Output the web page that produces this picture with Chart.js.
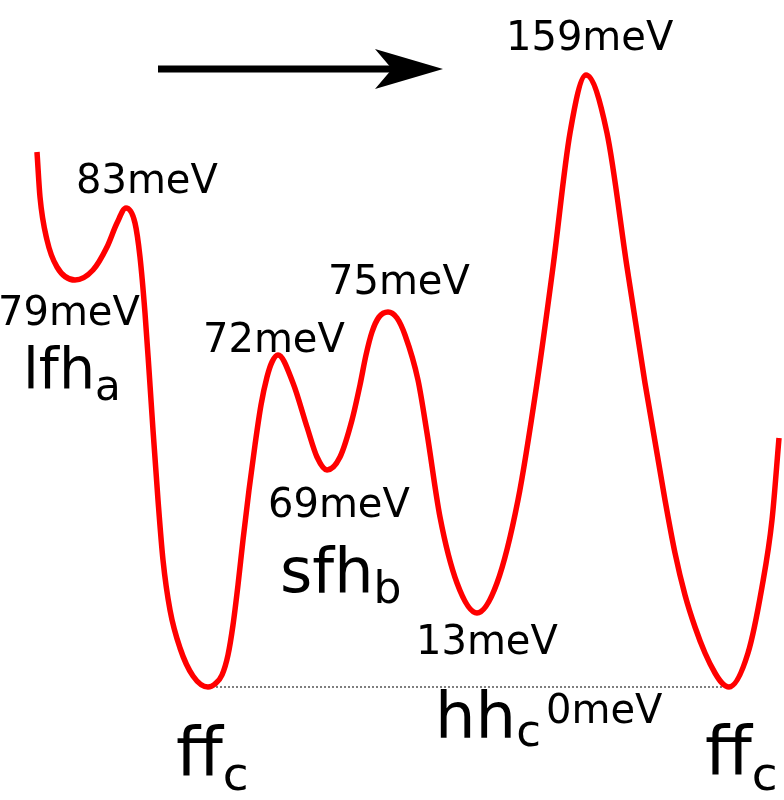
<!DOCTYPE html>
<html>
<head>
<meta charset="utf-8">
<script src="https://cdn.jsdelivr.net/npm/chart.js@4.5.1/dist/chart.umd.min.js"></script>
<style>
  html, body { margin: 0; padding: 0; background: #fff; }
  canvas { display: block; }
</style>
</head>
<body>
<canvas id="landscape" width="784" height="800"></canvas>
<script>
// ── Data: path through the energy landscape (height above the ff_c level) ──
const pathX = [37, 40, 47, 57, 75, 93, 107, 117, 126, 135, 140, 145, 149, 153, 158, 163, 170, 180, 193, 208,
  215, 222, 228, 233, 238, 243, 249, 255, 261, 267, 272, 278, 293, 307, 317, 327, 340, 352, 360, 366, 372, 379, 388, 397, 405,
  418, 427, 440, 457, 477, 497, 518, 537, 553, 570, 586, 607, 627, 645, 665, 675, 685, 695, 705, 715, 722, 729,
  748, 762, 772, 779];
const pathY = [535, 490, 447, 420, 407, 417, 440, 464, 479, 464, 430, 374, 317, 257, 187, 127, 77, 39, 11, 0,
  3, 12, 32, 62, 102, 147, 197, 242, 282, 310, 325, 332, 304, 260, 230, 217, 230, 267, 302, 332, 355, 370, 375, 369, 352,
  307, 254, 170, 104, 74, 104, 187, 304, 420, 554, 612, 554, 420, 304, 187, 134, 92, 60, 34, 14, 4, 0,
  34, 100, 167, 249];

// reference level (dotted line between the two ff_c minima)
const baseX = [208, 729];
const baseY = [0, 0];

// energies of the stationary points
const energyLabels = ['83meV', '79meV', '72meV', '75meV', '69meV', '13meV', '159meV', '0meV'];
// state names with subscripts
const stateNames = ['lfh', 'sfh', 'hh', 'ff', 'ff'];
const stateSubs = ['a', 'b', 'c', 'c', 'c'];

// ── Placement of the text (value space: x, height of baseline) ────────────
const energyPos = [
  [76, 494], [-2, 362], [203, 335], [328, 393], [268, 170], [416, 33], [506, 637], [546, -36]
];
// [x, baseline, size, stretch, subBaselineDrop, subSize]
const statePos = [
  [23, 299, 57, 1.0, 12, 42],
  [280, 95, 62, 1.0, 11, 44],
  [435, -51, 64, 1.0, 8, 45],
  [176, -89, 68, 1.0, 14, 47],
  [705, -88, 68, 1.0, 15, 47]
];

const FONT = '"DejaVu Sans", Verdana, sans-serif';

const pts = (xs, ys) => xs.map((v, i) => ({ x: v, y: ys[i] }));

// ── Text + arrow overlay ─────────────────────────────────────────────────
const overlay = {
  id: 'overlay',
  afterDatasetsDraw(chart) {
    const { ctx, scales: { x, y } } = chart;
    const X = (v) => x.getPixelForValue(v);
    const Y = (v) => y.getPixelForValue(v);
    ctx.save();
    ctx.fillStyle = '#000';
    ctx.textBaseline = 'alphabetic';
    ctx.textAlign = 'left';

    // arrow
    ctx.beginPath();
    ctx.rect(X(158), Y(621.5), X(395) - X(158), 7);
    ctx.fill();
    ctx.beginPath();
    ctx.moveTo(X(443), Y(618));
    ctx.lineTo(X(375), Y(638));
    ctx.lineTo(X(392), Y(618));
    ctx.lineTo(X(375), Y(598));
    ctx.closePath();
    ctx.fill();

    // energy labels
    ctx.font = '40px ' + FONT;
    energyLabels.forEach((t, i) => {
      ctx.fillText(t, X(energyPos[i][0]), Y(energyPos[i][1]));
    });

    // state labels
    stateNames.forEach((t, i) => {
      const [sx, sb, size, stretch, drop, subSize] = statePos[i];
      ctx.save();
      ctx.font = size + 'px ' + FONT;
      ctx.translate(X(sx), Y(sb));
      ctx.scale(stretch, 1);
      ctx.fillText(t, 0, 0);
      const w = ctx.measureText(t).width * stretch;
      ctx.restore();
      ctx.font = subSize + 'px ' + FONT;
      ctx.fillText(stateSubs[i], X(sx) + w, Y(sb) + drop);
    });
    ctx.restore();
  }
};

new Chart(document.getElementById('landscape'), {
  type: 'line',
  data: {
    datasets: [
      {
        data: pts(pathX, pathY),
        borderColor: '#ff0000',
        borderWidth: 5.5,
        pointRadius: 0,
        cubicInterpolationMode: 'monotone',
        fill: false
      },
      {
        data: pts(baseX, baseY),
        borderColor: '#000',
        borderWidth: 1,
        borderDash: [2, 2],
        pointRadius: 0,
        fill: false
      }
    ]
  },
  options: {
    responsive: false,
    animation: false,
    devicePixelRatio: 1,
    layout: { padding: 0 },
    clip: false,
    plugins: { legend: { display: false }, tooltip: { enabled: false } },
    scales: {
      x: { type: 'linear', min: 0, max: 784, display: false },
      y: { type: 'linear', min: -113, max: 687, display: false }
    }
  },
  plugins: [overlay]
});
</script>
</body>
</html>
